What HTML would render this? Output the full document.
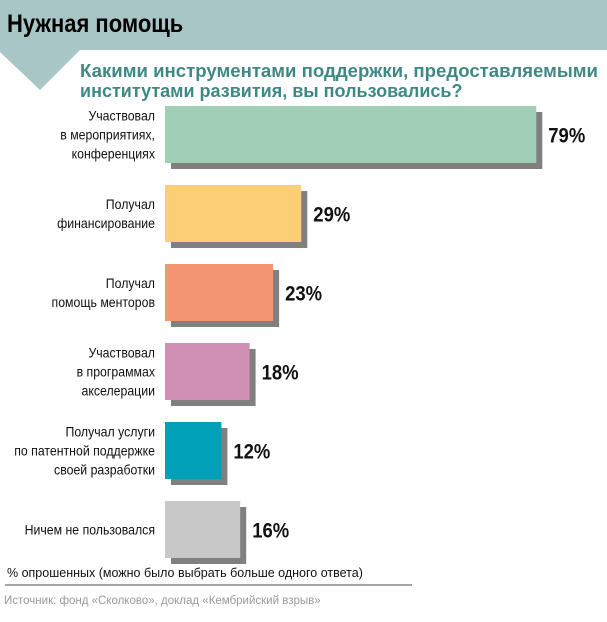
<!DOCTYPE html>
<html><head><meta charset="utf-8">
<style>
html,body{margin:0;padding:0;background:#fff;}
svg{display:block;}
.lbl{font-family:"Liberation Sans Narrow","Liberation Sans","DejaVu Sans",sans-serif;font-size:14px;fill:#111;}
.val{font-family:"Liberation Sans Narrow","Liberation Sans",sans-serif;font-size:21px;font-weight:bold;fill:#111;}
</style></head>
<body>
<svg id="chart" width="607" height="622" viewBox="0 0 607 622" xmlns="http://www.w3.org/2000/svg">
  <rect x="0" y="0" width="607" height="50" fill="#a7c6c5"/>
  <polygon points="0,50 80,50 40,90 0,52" fill="#a7c6c5"/>
  <text x="8" y="32" font-family="'Liberation Sans Narrow','Liberation Sans',sans-serif" font-weight="bold" font-size="25" fill="#000" transform="scale(0.88,1)" >Нужная помощь</text>
  <text font-family="'Liberation Sans',sans-serif" font-weight="bold" font-size="18" fill="#3f8985">
    <tspan x="80" y="77" textLength="518" lengthAdjust="spacingAndGlyphs">Какими инструментами поддержки, предоставляемыми</tspan>
    <tspan x="80" y="97">институтами развития, вы пользовались?</tspan>
  </text>
  <g id="bars"></g>
  <text x="7" y="577" font-family="'Liberation Sans Narrow','Liberation Sans',sans-serif" font-size="12.5" fill="#111">% опрошенных (можно было выбрать больше одного ответа)</text>
  <line x1="5" y1="585" x2="412" y2="585" stroke="#888" stroke-width="1.5"/>
  <text x="4" y="604" font-family="'Liberation Sans',sans-serif" font-size="11.5" fill="#999">Источник: фонд «Сколково», доклад «Кембрийский взрыв»</text>
</svg>
<script>
const categories = [
  ["Участвовал","в мероприятиях,","конференциях"],
  ["Получал","финансирование"],
  ["Получал","помощь менторов"],
  ["Участвовал","в программах","акселерации"],
  ["Получал услуги","по патентной поддержке","своей разработки"],
  ["Ничем не пользовался"]
];
const values = [79, 29, 23, 18, 12, 16];
const valueLabels = ["79%","29%","23%","18%","12%","16%"];
const colors = ["#a0cfb6","#fccf77","#f39674","#d08fb4","#00a0b9","#c8c8c8"];

const NS = "http://www.w3.org/2000/svg";
const g = document.getElementById("bars");
const x0 = 165, pxPer = 4.7, top0 = 106, step = 79, bh = 57, sh = 6;
function xScale(v){ return v * pxPer; }
function yScale(i){ return top0 + i * step; }
values.forEach((v, i) => {
  const y = yScale(i), w = xScale(v);
  const s = document.createElementNS(NS, "rect");
  
  
  s.setAttribute("x", x0 + sh); s.setAttribute("y", y + sh);
  s.setAttribute("width", w); s.setAttribute("height", bh);
  s.setAttribute("fill", "#808080");
  g.appendChild(s);
  const r = document.createElementNS(NS, "rect");
  
  
  r.setAttribute("x", x0); r.setAttribute("y", y);
  r.setAttribute("width", w); r.setAttribute("height", bh);
  r.setAttribute("fill", colors[i]);
  g.appendChild(r);
  const t = document.createElementNS(NS, "text");
  
  
  t.setAttribute("class", "val");
  t.setAttribute("x", x0 + w + sh + 6);
  t.setAttribute("y", y + bh / 2 + 8);
  t.setAttribute("transform", "translate(" + ((x0 + w + sh + 6) * 0.12) + ",0) scale(0.88,1)");
  t.textContent = valueLabels[i];
  g.appendChild(t);
  const lines = categories[i];
  const lh = 19;
  const startY = y + bh / 2 - (lines.length - 1) * lh / 2 + 5;
  const l = document.createElementNS(NS, "text");
  
  
  l.setAttribute("class", "lbl");
  l.setAttribute("text-anchor", "end");
  l.setAttribute("transform", "translate(" + (155 * 0.12) + ",0) scale(0.88,1)");
  lines.forEach((ln, k) => {
    const ts = document.createElementNS(NS, "tspan");
    ts.setAttribute("x", 155);
    ts.setAttribute("y", startY + k * lh);
    ts.textContent = ln;
    l.appendChild(ts);
  });
  g.appendChild(l);
});
</script>
</body></html>
